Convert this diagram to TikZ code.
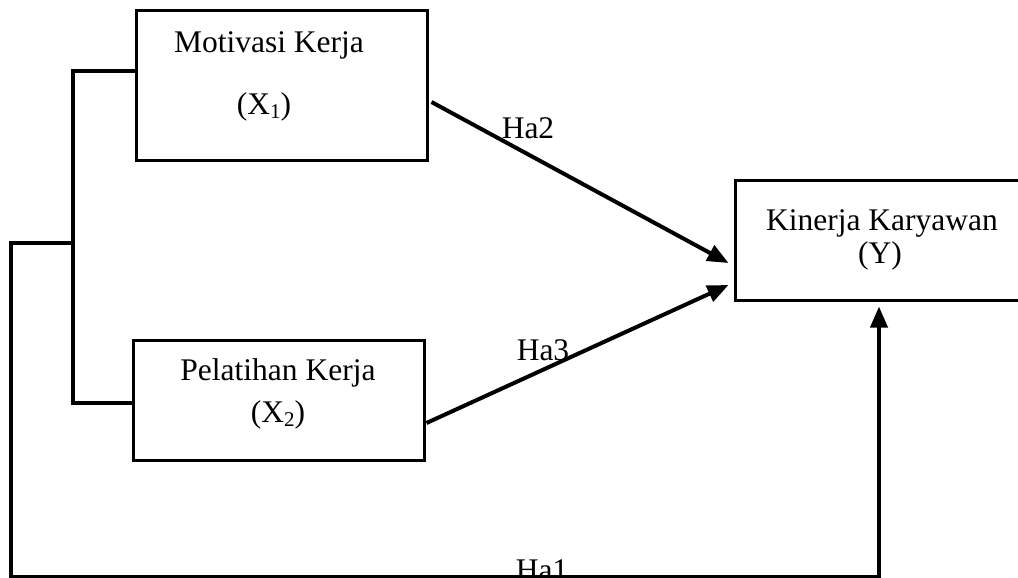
\documentclass[tikz,border=0pt]{standalone}
\usepackage{fontspec}
\setmainfont{Liberation Serif}
\usetikzlibrary{arrows.meta}
\begin{document}
\begin{tikzpicture}[x=1pt,y=-1pt,
  box/.style={draw,line width=3pt,rectangle,inner sep=0pt},
  lbl/.style={anchor=base,inner sep=0pt,font=\fontsize{31.5}{36}\selectfont},
  conn/.style={line width=4pt},
  arr/.style={line width=4pt,-{Triangle[length=21pt,width=17pt]}}]
\useasboundingbox (0,0) rectangle (1018,578);
% boxes
\node[box,minimum width=291pt,minimum height=149pt] (b1) at (281.5,85.5) {};
\node[box,minimum width=291pt,minimum height=120pt] (b2) at (278.5,400) {};
\node[box,minimum width=286pt,minimum height=120pt] (b3) at (878,240) {};
% texts
\node[lbl] (t1a) at (269,53) {Motivasi Kerja};
\node[lbl] (t1b) at (264,114) {(X\raisebox{-4pt}{\fontsize{21}{24}\selectfont 1})};
\node[lbl] (t2a) at (278,380) {Pelatihan Kerja};
\node[lbl] (t2b) at (278,422) {(X\raisebox{-4pt}{\fontsize{21}{24}\selectfont 2})};
\node[lbl] (t3a) at (882,230) {Kinerja Karyawan};
\node[lbl] (t3b) at (880,263) {(Y)};
\node[lbl] (h2) at (528,138) {Ha2};
\node[lbl] (h3) at (543,360) {Ha3};
\node[lbl] (h1) at (542,580) {Ha1};
% bracket and connectors
\coordinate (j) at (73,243);
\coordinate (bl) at (11,577);
\draw[conn] ([yshift=14.5pt]b1.west) -| (j) |- ([yshift=-3pt]b2.west);
\draw[arr] (j) -| (bl) -| ([xshift=1pt,yshift=-5pt]b3.south);
\draw[arr] ([xshift=3pt,yshift=-16.5pt]b1.east) -- ([xshift=-5pt,yshift=-23pt]b3.west);
\draw[arr] ([xshift=1pt,yshift=-23pt]b2.east) -- ([xshift=-5pt,yshift=-45pt]b3.west);
\end{tikzpicture}
\end{document}
